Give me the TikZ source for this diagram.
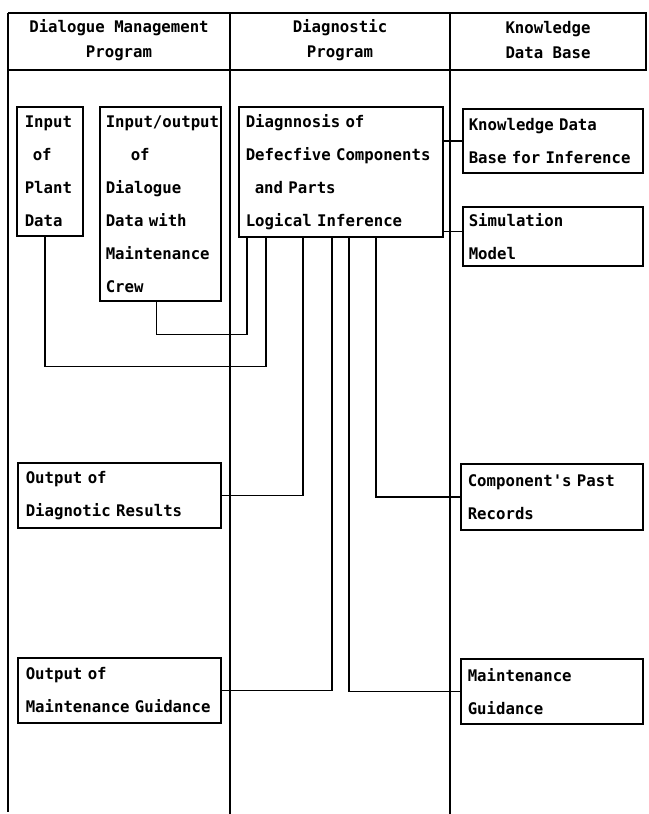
\documentclass[tikz,border=0pt]{standalone}
\usepackage{fontspec}
\usepackage{tikz}
\usetikzlibrary{calc}
\newfontfamily\dotfont{DejaVu Sans Mono}[UprightFont={* Bold}, FakeStretch=0.98]

\tikzset{
  frame/.style={line width=1.6pt},
  link/.style={line width=1.6pt},
  head/.style={align=center, font=\dotfont\fontsize{16}{25}\selectfont},
  unit/.style={draw, line width=1.6pt, anchor=north west, align=left,
    inner xsep=8pt, inner ysep=0pt,
    font=\dotfont\fontsize{16}{33}\selectfont},
}

\begin{document}
\begin{tikzpicture}[x=1pt,y=-1pt]
\useasboundingbox (0,0) rectangle (648,814);

% columns
\draw[frame] (8,13) -- (646,13) -- (646,70) -- (8,70);
\draw[frame] (8,13) -- (8,812);
\draw[frame] (230,13) -- (230,814);
\draw[frame] (450,13) -- (450,814);

\node[head] (hdlg) at (119,40) {Dialogue Management\\Program};
\node[head] (hdia) at (340,40) {Diagnostic\\Program};
\node[head] (hkdb) at (548,40) {Knowledge\\Data Base};

% dialogue management
\node[unit, text width=50pt, minimum height=129pt] (plant) at (16,106)
  {Input\\\hspace*{8pt}of\\Plant\\Data};
\node[unit, inner xsep=6pt, text width=109pt, minimum height=194pt] (dialog) at (99,106)
  {Input/output\\\hspace*{25pt}of\\Dialogue\\Data with\\Maintenance\\Crew};
\node[unit, text width=187pt, minimum height=65pt] (outres) at (17,462)
  {Output of\\Diagnotic Results};
\node[unit, text width=187pt, minimum height=65pt] (outguide) at (17,657)
  {Output of\\Maintenance Guidance};

% diagnostic program
\node[unit, inner xsep=7pt, text width=190pt, minimum height=130pt] (diagnosis) at (238,106)
  {Diagnnosis of\\Defecfive Components\\\hspace*{9pt}and Parts\\Logical Inference};

% knowledge data base
\node[unit, inner xsep=6pt, text width=168pt, minimum height=64pt] (kdb) at (462,108)
  {Knowledge Data\\Base for Inference};
\node[unit, inner xsep=6pt, text width=168pt, minimum height=59pt] (simul) at (462,206)
  {Simulation\\Model};
\node[unit, inner xsep=7pt, text width=168pt, minimum height=66pt] (records) at (460,463)
  {Component's Past\\Records};
\node[unit, inner xsep=7pt, text width=168pt, minimum height=65pt] (guidance) at (460,658)
  {Maintenance\\Guidance};

% connections
\draw[link] (kdb.west) -- (kdb.west -| diagnosis.east);
\draw[link] ([yshift=5pt]simul.west) -- ([yshift=5pt]simul.west -| diagnosis.east);

\coordinate (d1) at ([xshift=9pt]diagnosis.south west);
\coordinate (d2) at ([xshift=28pt]diagnosis.south west);
\coordinate (d3) at ([xshift=65pt]diagnosis.south west);
\coordinate (d4) at ([xshift=94pt]diagnosis.south west);
\coordinate (d5) at ([xshift=111pt]diagnosis.south west);
\coordinate (d6) at ([xshift=138pt]diagnosis.south west);

\draw[link] (d1) -- ++(0,97) -| ([xshift=-4pt]dialog.south);
\draw[link] (d2) -- ++(0,129) -| ([xshift=-5pt]plant.south);
\draw[link] (d3) |- (outres.east);
\draw[link] (d4) |- (outguide.east);
\draw[link] (d5) |- (guidance.west);
\draw[link] (d6) |- (records.west);
\end{tikzpicture}
\end{document}
